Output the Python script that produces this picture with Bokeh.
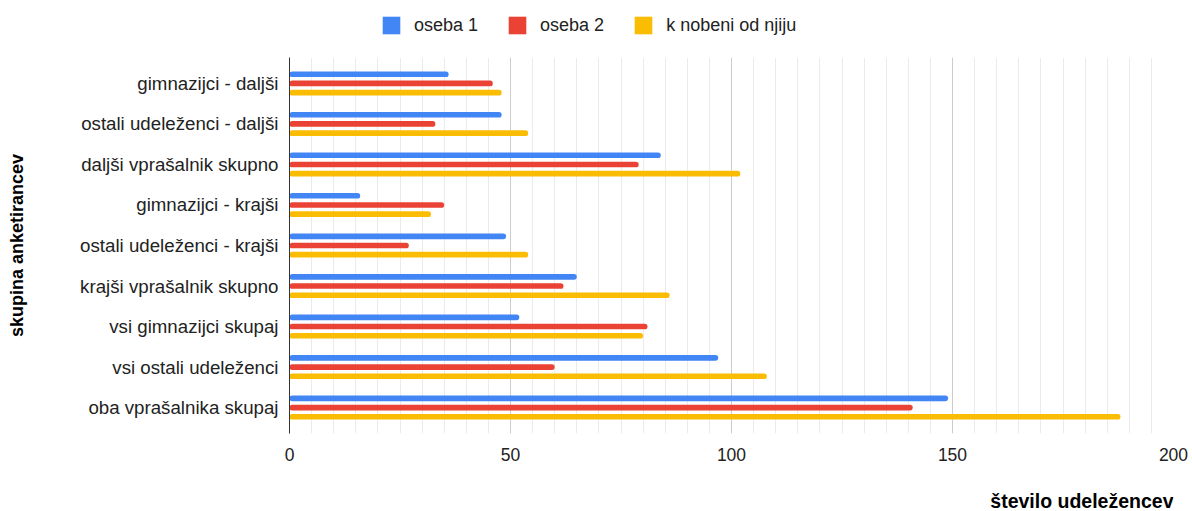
from bokeh.plotting import figure
from bokeh.layouts import column
from bokeh.models import (ColumnDataSource, FactorRange, Range1d, SingleIntervalTicker,
                          Legend, LegendItem, Label)
from bokeh.transform import dodge
from bokeh.embed import file_html
from bokeh.resources import INLINE

categories = [
    "gimnazijci - daljši",
    "ostali udeleženci - daljši",
    "daljši vprašalnik skupno",
    "gimnazijci - krajši",
    "ostali udeleženci - krajši",
    "krajši vprašalnik skupno",
    "vsi gimnazijci skupaj",
    "vsi ostali udeleženci",
    "oba vprašalnika skupaj",
]
oseba_1 = [36, 48, 84, 16, 49, 65, 52, 97, 149]
oseba_2 = [46, 33, 79, 35, 27, 62, 81, 60, 141]
k_nobeni = [48, 54, 102, 32, 54, 86, 80, 108, 188]
series_names = ["oseba 1", "oseba 2", "k nobeni od njiju"]
colors = ["#4285F4", "#EA4335", "#FBBC04"]
x_title = "število udeležencev"
y_title = "skupina anketirancev"

FONT = "Liberation Sans"
W = 1192
BORDER_L, BORDER_R = 289, 19

src = ColumnDataSource(dict(cat=categories, s1=oseba_1, s2=oseba_2, s3=k_nobeni))

# ---------- legend strip ----------
LEG_H = 57
pl = figure(width=W, height=LEG_H, x_range=Range1d(0, 200), y_range=Range1d(0, 1),
            output_backend="svg", toolbar_location=None,
            min_border_left=BORDER_L, min_border_right=BORDER_R,
            min_border_top=0, min_border_bottom=0,
            x_axis_location=None, y_axis_location=None)
pl.outline_line_color = None
pl.grid.visible = False
leg_renderers = [pl.hbar(y=key, right=key, height=1, source=src, fill_color=c,
                         line_color=None, visible=False)
                 for key, c in zip(["s1", "s2", "s3"], colors)]
legend = Legend(
    items=[LegendItem(label=n, renderers=[r]) for n, r in zip(series_names, leg_renderers)],
    location=(91, 21), orientation="horizontal",
    glyph_width=22, glyph_height=22, label_standoff=12, spacing=28,
    label_text_font=FONT, label_text_font_size="18px", label_text_color="#222222",
    border_line_color=None, background_fill_alpha=0, padding=0, margin=0,
    inactive_fill_alpha=0,
)
pl.add_layout(legend, "center")

# ---------- main chart ----------
MAIN_H = 416
p = figure(
    width=W, height=MAIN_H,
    y_range=FactorRange(factors=list(reversed(categories)), range_padding=0.14,
                        range_padding_units="absolute"),
    x_range=Range1d(0, 200),
    output_backend="svg", toolbar_location=None,
    min_border_left=BORDER_L, min_border_right=BORDER_R,
    min_border_top=0, min_border_bottom=40,
)
p.outline_line_color = None

offsets = [0.227, 0.0, -0.227]
for key, off, col in zip(["s1", "s2", "s3"], offsets, colors):
    p.hbar(y=dodge("cat", off, range=p.y_range), left=0, right=key, height=0.14,
           source=src, fill_color=col, line_color=None, border_radius=3)

p.xaxis.ticker = SingleIntervalTicker(interval=50, num_minor_ticks=10)
p.xaxis.axis_line_color = None
p.xaxis.major_tick_line_color = None
p.xaxis.minor_tick_line_color = None
p.xaxis.major_label_text_font = FONT
p.xaxis.major_label_text_font_size = "17.5px"
p.xaxis.major_label_text_color = "#222222"
p.xaxis.major_label_standoff = 8

p.yaxis.axis_line_color = "#333333"
p.yaxis.axis_line_width = 1
p.yaxis.major_tick_line_color = None
p.yaxis.minor_tick_line_color = None
p.yaxis.major_label_text_font = FONT
p.yaxis.major_label_text_font_size = "18.7px"
p.yaxis.major_label_text_color = "#222222"
p.yaxis.major_label_standoff = 5
p.yaxis.axis_label = y_title
p.yaxis.axis_label_text_font = FONT
p.yaxis.axis_label_text_font_style = "bold"
p.yaxis.axis_label_text_font_size = "18px"
p.yaxis.axis_label_text_color = "#000000"
p.yaxis.axis_label_standoff = 50

p.ygrid.grid_line_color = None
p.xgrid.grid_line_color = "#cccccc"
p.xgrid.minor_grid_line_color = "#ebebeb"

# ---------- x title strip ----------
BOT_H = 511 - LEG_H - MAIN_H
pb = figure(width=W, height=BOT_H, x_range=Range1d(0, 200), y_range=Range1d(0, BOT_H),
            output_backend="svg", toolbar_location=None,
            min_border_left=BORDER_L, min_border_right=BORDER_R,
            min_border_top=0, min_border_bottom=0,
            x_axis_location=None, y_axis_location=None)
pb.outline_line_color = None
pb.grid.visible = False
pb.add_layout(Label(x=200, y=11, text=x_title, text_align="right",
                    text_baseline="middle",
                    text_font=FONT, text_font_style="bold", text_font_size="19.5px",
                    text_color="#000000"))

layout = column(pl, p, pb, spacing=0)
html = file_html(layout, INLINE)
open("out.html", "w").write(html)
